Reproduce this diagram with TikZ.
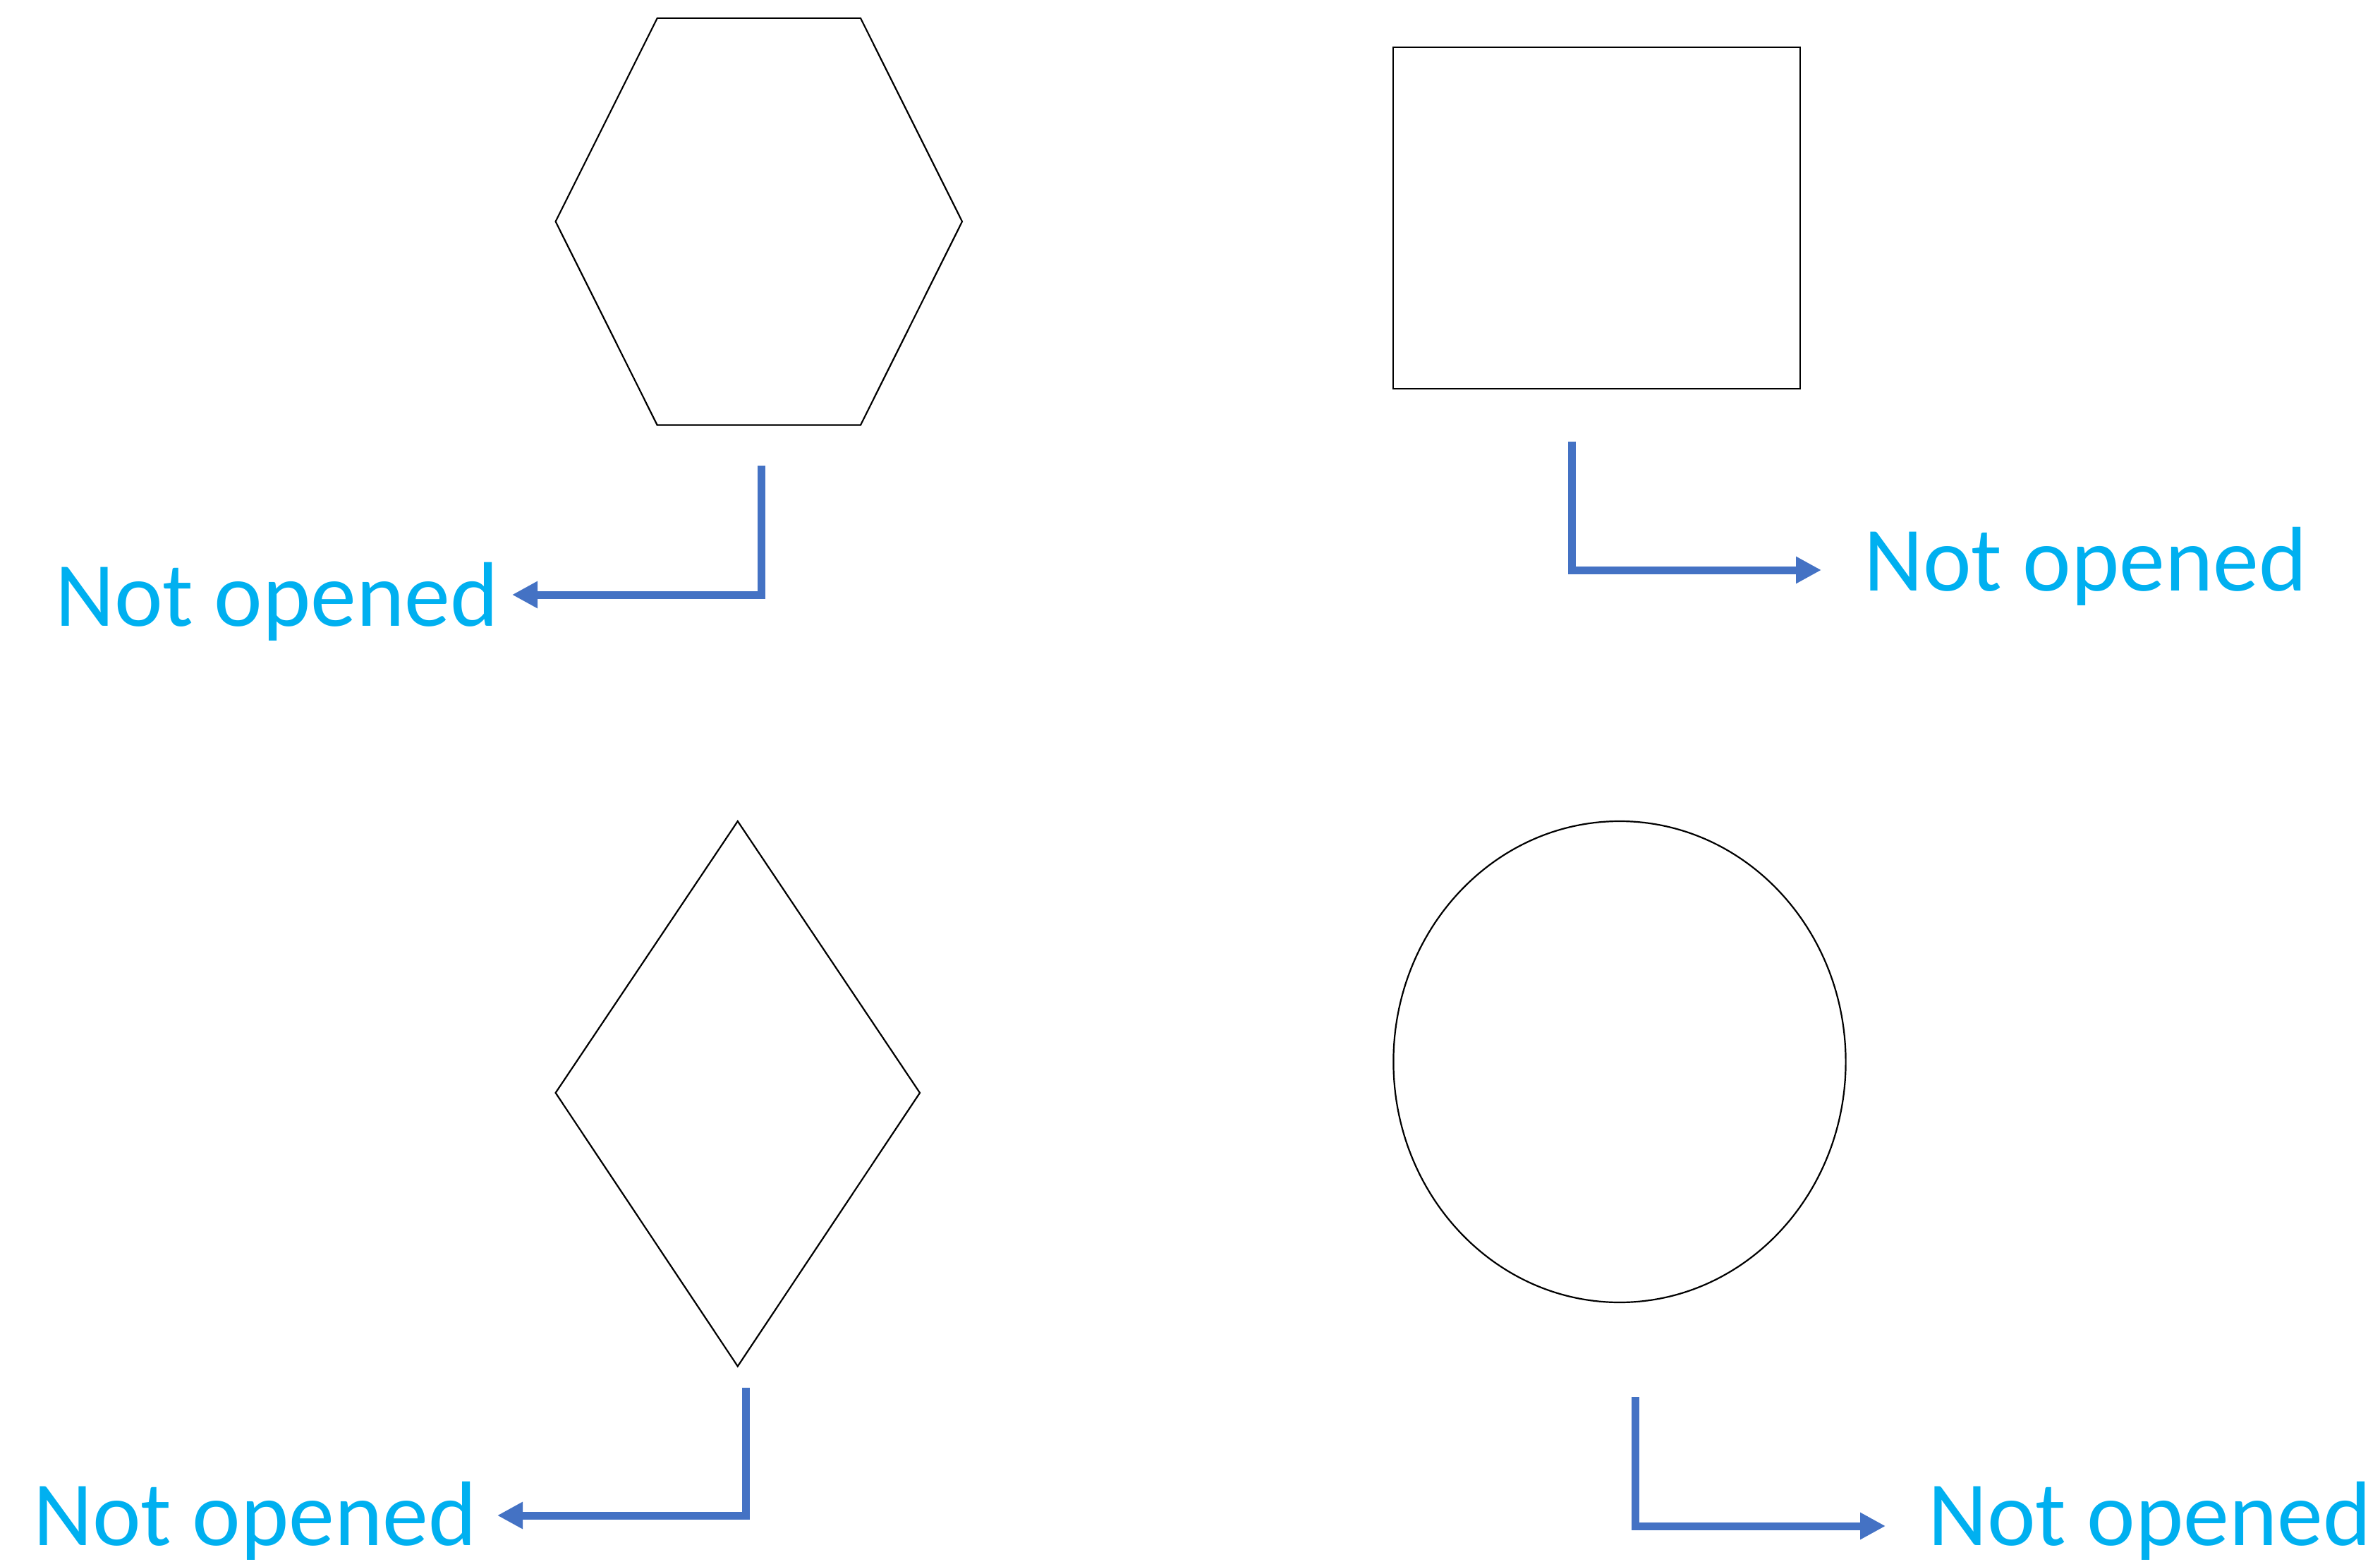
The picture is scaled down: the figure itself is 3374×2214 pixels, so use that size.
\documentclass[tikz,border=0pt]{standalone}
\usepackage{fontspec}
\setmainfont{Carlito}
\usetikzlibrary{arrows.meta}
\definecolor{arrowblue}{HTML}{4472C4}
\definecolor{textblue}{HTML}{00B0F0}
\tikzset{
  shapeline/.style={draw=black, line width=1.1pt},
  flowarrow/.style={draw=arrowblue, line width=5.5pt, line join=miter,
    -{Triangle[length=18pt,width=18pt]}},
  lbl/.style={text=textblue, font=\fontsize{65pt}{72pt}\selectfont, inner sep=0pt, anchor=base west}
}
\begin{document}
\begin{tikzpicture}[x=0.5pt,y=-0.5pt]
\useasboundingbox (0,0) rectangle (3374,2214);
% shapes
\draw[shapeline] (931.7,25.8) -- (1220,25.8) -- (1364,314) -- (1220,602.5) -- (931.7,602.5) -- (787.6,314) -- cycle;
\draw[shapeline] (1975.3,66.7) rectangle (2552,550.9);
\draw[shapeline] (1045.8,1164) -- (1304,1549) -- (1045.8,1936.6) -- (787.6,1549) -- cycle;
\draw[shapeline] (2296,1505) ellipse [x radius=320.6, y radius=341];
% labels
\node[lbl] (t1) at (78,887) {Not opened};
\node[lbl] (t2) at (2642,837) {Not opened};
\node[lbl] (t3) at (47,2190) {Not opened};
\node[lbl] (t4) at (2733,2190) {Not opened};
% connector coordinates
\coordinate (s1) at (1079,660);
\coordinate (c1) at (1079,843);
\coordinate (e1) at (726,843);
\coordinate (s2) at (2228,626);
\coordinate (c2) at (2228,808);
\coordinate (e2) at (2582,808);
\coordinate (s3) at (1057,1967);
\coordinate (c3) at (1057,2148);
\coordinate (e3) at (705,2148);
\coordinate (s4) at (2318,1980);
\coordinate (c4) at (2318,2163);
\coordinate (e4) at (2673,2163);
\draw[flowarrow] (s1) -- (c1) -- (e1);
\draw[flowarrow] (s2) -- (c2) -- (e2);
\draw[flowarrow] (s3) -- (c3) -- (e3);
\draw[flowarrow] (s4) -- (c4) -- (e4);
\end{tikzpicture}
\end{document}
